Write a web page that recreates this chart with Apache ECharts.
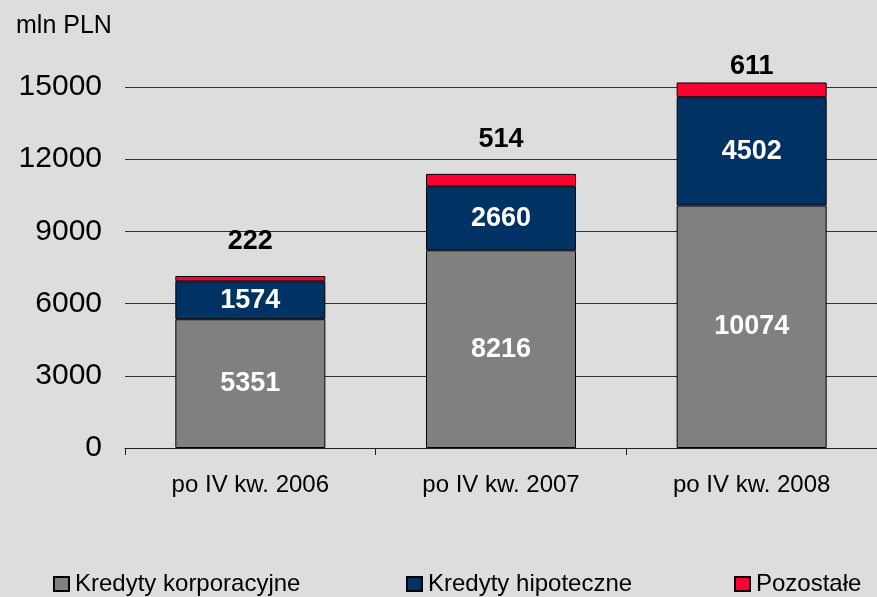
<!DOCTYPE html>
<html>
<head>
<meta charset="utf-8">
<script src="https://cdn.jsdelivr.net/npm/echarts@6/dist/echarts.min.js"></script>
<style>
  html, body { margin: 0; padding: 0; background: #dddddd; }
  #chart { width: 877px; height: 597px; }
</style>
</head>
<body>
<div id="chart"></div>
<script>
var categories = ['po IV kw. 2006', 'po IV kw. 2007', 'po IV kw. 2008'];
var korporacyjne = [5351, 8216, 10074];
var hipoteczne = [1574, 2660, 4502];
var pozostale = [222, 514, 611];
var yTicks = [0, 3000, 6000, 9000, 12000, 15000];

// odstep etykiet nad czerwonym segmentem (jak w oryginale)
var topLabelGap = [21, 21, 2];

var chart = echarts.init(document.getElementById('chart'));
var font = 'Liberation Sans, Arial, sans-serif';

var legendLeft = [48, 401, 729];
var legendNames = ['Kredyty korporacyjne', 'Kredyty hipoteczne', 'Pozostałe'];

var option = {
    backgroundColor: '#dddddd',
    animation: false,
    textStyle: { fontFamily: font },
    title: {
        text: 'mln PLN',
        left: 11,
        top: 9,
        textStyle: { fontSize: 25, fontWeight: 'normal', color: '#000', fontFamily: font }
    },
    grid: { left: 125, right: 0, top: 87, bottom: 149 },
    legend: legendNames.map(function (n, i) {
        return {
            data: [n],
            left: legendLeft[i],
            top: 567,
            itemWidth: 15,
            itemHeight: 14,
            itemGap: 4,
            icon: 'rect',
            textStyle: { fontSize: 24, color: '#000', fontFamily: font, padding: [0, 0, 0, 1] }
        };
    }),
    xAxis: {
        type: 'category',
        data: categories,
        axisLine: { lineStyle: { color: '#222', width: 1 } },
        axisTick: { show: true, length: 7, lineStyle: { color: '#222' } },
        axisLabel: { fontSize: 24, color: '#000', margin: 25 }
    },
    yAxis: {
        type: 'value',
        min: yTicks[0],
        max: yTicks[yTicks.length - 1],
        interval: 3000,
        axisLine: { show: false },
        axisTick: { show: false },
        axisLabel: { fontSize: 30, color: '#000', margin: 23, formatter: function (v) { return String(v); } },
        splitLine: { lineStyle: { color: '#333', width: 1 } }
    },
    series: [
        {
            name: 'Kredyty korporacyjne',
            type: 'bar',
            stack: 'total',
            barWidth: 150,
            clip: false,
            data: korporacyjne,
            itemStyle: { color: '#808080', borderColor: '#000', borderWidth: 1 },
            label: { show: true, position: 'inside', color: '#fff', fontWeight: 'bold', fontSize: 27 }
        },
        {
            name: 'Kredyty hipoteczne',
            type: 'bar',
            stack: 'total',
            barWidth: 150,
            clip: false,
            data: hipoteczne,
            itemStyle: { color: '#003264', borderColor: '#000', borderWidth: 1 },
            label: { show: true, position: 'inside', color: '#fff', fontWeight: 'bold', fontSize: 27 }
        },
        {
            name: 'Pozostałe',
            type: 'bar',
            stack: 'total',
            barWidth: 150,
            clip: false,
            data: pozostale.map(function (v, i) {
                return { value: v, label: { distance: topLabelGap[i] } };
            }),
            itemStyle: { color: '#ff0033', borderColor: '#000', borderWidth: 1 },
            label: { show: true, position: 'top', color: '#000', fontWeight: 'bold', fontSize: 27 }
        }
    ]
};

chart.setOption(option);
window.onresize = chart.resize;
</script>
</body>
</html>
